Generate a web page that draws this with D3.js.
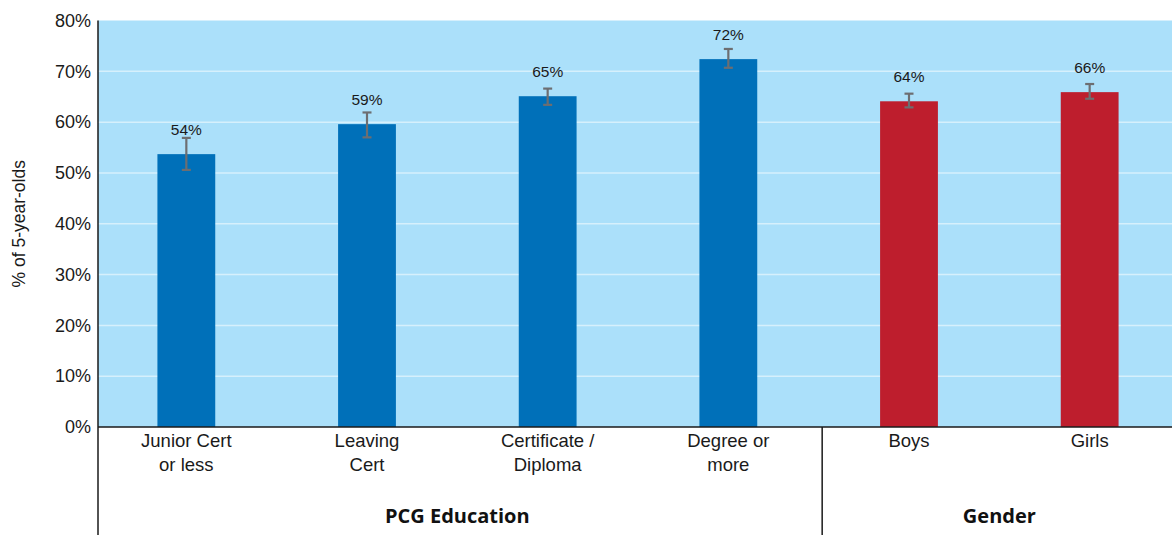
<!DOCTYPE html>
<html><head><meta charset="utf-8">
<script src="https://cdn.jsdelivr.net/npm/d3@7"></script>
<style>body{margin:0;background:#fff}svg{display:block}</style>
</head><body><svg id="c" width="1172" height="535"></svg>
<script>
const categories = [["Junior Cert","or less"],["Leaving","Cert"],["Certificate /","Diploma"],["Degree or","more"],["Boys"],["Girls"]];
const groupOf = ["PCG Education","PCG Education","PCG Education","PCG Education","Gender","Gender"];
const groups = ["PCG Education","Gender"];
const values = [53.7, 59.6, 65.1, 72.4, 64.1, 65.9];
const errLow = [50.6, 57.0, 63.4, 70.7, 62.9, 64.6];
const errHigh = [56.9, 61.9, 66.6, 74.4, 65.6, 67.5];
const labels = ["54%","59%","65%","72%","64%","66%"];
const yTicks = [0,10,20,30,40,50,60,70,80];

(function(){
const W = 1172, H = 535;
const mLeft = 98, mTop = 20.5, mBottom = 427, rightEdge = 1172;
const svg = d3.select("#c");
const ids = categories.map((c,i)=>i);
const x = d3.scalePoint().domain(ids).range([96, 1180]).padding(0.5);
const step = x.step();
const bw = step * 0.32;
const y = d3.scaleLinear().domain([0,80]).range([mBottom, mTop]);
const font = "'Liberation Sans', Arial, Helvetica, sans-serif";
const colorFor = g => g === "Gender" ? "#BE1E2D" : "#0070B9";

svg.append("rect").attr("x", mLeft).attr("y", y(80)).attr("width", rightEdge-mLeft).attr("height", y(0)-y(80)).attr("fill", "#ABE0FA");

svg.append("g").selectAll("line").data(yTicks.filter(t=>t>0 && t<80)).join("line")
  .attr("x1", mLeft).attr("x2", rightEdge).attr("y1", d=>y(d)).attr("y2", d=>y(d))
  .attr("stroke", "#D6F0FC").attr("stroke-width", 1.5);

svg.append("g").selectAll("rect").data(ids).join("rect")
  .attr("x", i=>x(i)-bw/2).attr("width", bw)
  .attr("y", i=>y(values[i])).attr("height", i=>y(0)-y(values[i]))
  .attr("fill", i=>colorFor(groupOf[i]));

const eg = svg.append("g").attr("stroke", "#6D6E71").attr("stroke-width", 2.2);
ids.forEach(i=>{
  eg.append("line").attr("x1", x(i)).attr("x2", x(i)).attr("y1", y(errLow[i])).attr("y2", y(errHigh[i]));
  eg.append("line").attr("x1", x(i)-4.5).attr("x2", x(i)+4.5).attr("y1", y(errLow[i])).attr("y2", y(errLow[i]));
  eg.append("line").attr("x1", x(i)-4.5).attr("x2", x(i)+4.5).attr("y1", y(errHigh[i])).attr("y2", y(errHigh[i]));
});

svg.append("g").selectAll("text").data(ids).join("text")
  .attr("x", i=>x(i)).attr("y", i=>y(values[i]) - 19.5)
  .attr("text-anchor","middle").attr("font-family", font).attr("font-size", 15.5).attr("fill","#1a1a1a")
  .text(i=>labels[i]);

const yAxis = d3.axisLeft(y).tickValues(yTicks).tickFormat(d=>d+"%").tickSize(0).tickPadding(7);
const ya = svg.append("g").attr("transform", `translate(${mLeft},0)`).call(yAxis);
ya.select(".domain").remove();
ya.selectAll("text").attr("font-family", font).attr("font-size", 18).attr("fill","#1a1a1a");

svg.append("line").attr("x1", mLeft).attr("x2", mLeft).attr("y1", y(80)).attr("y2", H).attr("stroke","#1a1a1a").attr("stroke-width",1.5);
svg.append("line").attr("x1", mLeft).attr("x2", rightEdge).attr("y1", y(0)).attr("y2", y(0)).attr("stroke","#1a1a1a").attr("stroke-width",1.5);
const divX = (x(3)+x(4))/2 + 3.5;
svg.append("line").attr("x1", divX).attr("x2", divX).attr("y1", y(0)).attr("y2", H).attr("stroke","#1a1a1a").attr("stroke-width",1.5);

const cl = svg.append("g");
ids.forEach(i=>{
  const t = cl.append("text").attr("x", x(i)).attr("y", 447).attr("text-anchor","middle")
    .attr("font-family", font).attr("font-size", 18.5).attr("fill","#1a1a1a");
  categories[i].forEach((line,k)=>{
    t.append("tspan").attr("x", x(i)).attr("dy", k===0?0:24).text(line);
  });
});

const groupCenter = g => {
  const members = ids.filter(i=>groupOf[i]===g);
  return (x(members[0]) - step/2 + x(members[members.length-1]) + step/2) / 2;
};
svg.append("g").selectAll("text").data(groups).join("text")
  .attr("x", g=>groupCenter(g)).attr("y", 523)
  .attr("text-anchor","middle").attr("font-family", "'Open Sans', 'DejaVu Sans', sans-serif")
  .attr("font-weight","bold").attr("font-size", 20).attr("fill","#111")
  .text(g=>g);

svg.append("text").attr("transform", `translate(25,${(y(80)+y(0))/2}) rotate(-90)`)
  .attr("text-anchor","middle").attr("font-family", font).attr("font-size", 17.5).attr("fill","#1a1a1a")
  .text("% of 5-year-olds");
})();
</script></body></html>
